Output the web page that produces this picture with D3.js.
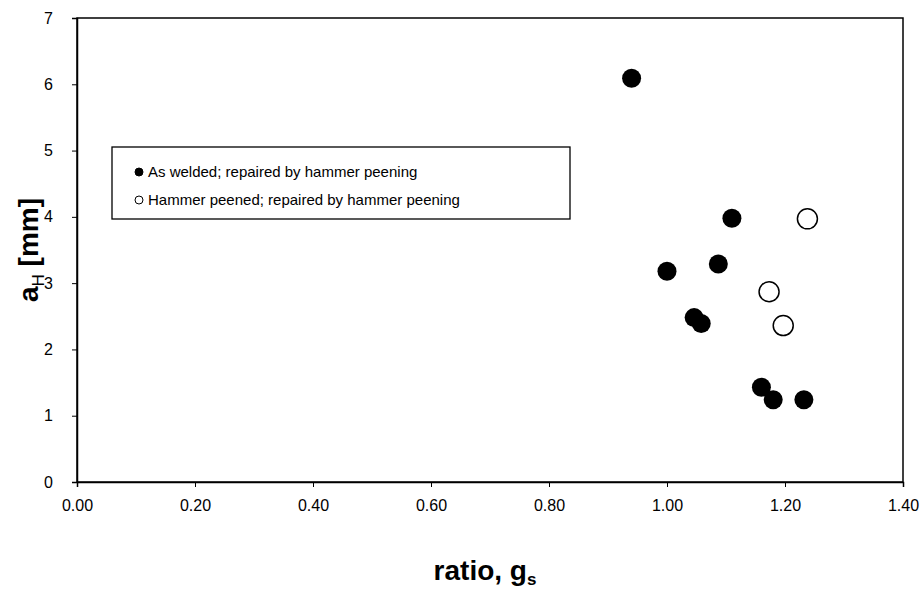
<!DOCTYPE html>
<html><head><meta charset="utf-8">
<script src="https://cdn.jsdelivr.net/npm/d3@7"></script>
<style>body{margin:0;background:#fff}svg{display:block}</style>
</head><body>
<script>
const weldedX = [0.94, 1.11, 1.00, 1.087, 1.046, 1.058, 1.16, 1.18, 1.232];
const weldedY = [6.09, 3.98, 3.18, 3.29, 2.48, 2.39, 1.43, 1.24, 1.24];
const peenedX = [1.238, 1.173, 1.197];
const peenedY = [3.97, 2.87, 2.36];
const xTicks = [0, 0.2, 0.4, 0.6, 0.8, 1.0, 1.2, 1.4];
const yTicks = [0, 1, 2, 3, 4, 5, 6, 7];
const legendLabels = ["As welded; repaired by hammer peening", "Hammer peened; repaired by hammer peening"];

const W = 923, H = 609;
const m = {l: 77, r: 20, t: 18, b: 127};
const svg = d3.select("body").append("svg").attr("width", W).attr("height", H);
const x = d3.scaleLinear().domain([0, 1.4]).range([m.l, W - m.r]);
const y = d3.scaleLinear().domain([0, 7]).range([H - m.b, m.t]);
const font = "Liberation Sans, Arial, sans-serif";

svg.append("rect").attr("x", x(0)).attr("y", y(7)).attr("width", x(1.4) - x(0)).attr("height", y(0) - y(7))
  .attr("fill", "none").attr("stroke", "#000").attr("stroke-width", 1.5);

const xa = svg.append("g").attr("transform", `translate(0,${y(0)})`)
  .call(d3.axisBottom(x).tickValues(xTicks).tickFormat(d3.format(".2f")).tickSize(5).tickPadding(13));
const ya = svg.append("g").attr("transform", `translate(${x(0)},0)`)
  .call(d3.axisLeft(y).tickValues(yTicks).tickFormat(d3.format("d")).tickSize(5).tickPadding(19));
[xa, ya].forEach(a => {
  a.select(".domain").attr("stroke", "#000").attr("stroke-width", 1.5);
  a.selectAll(".tick line").attr("stroke", "#000");
  a.selectAll("text").attr("font-family", font).attr("font-size", 16).attr("fill", "#000");
});

svg.append("g").selectAll("circle").data(weldedX.map((d, i) => [d, weldedY[i]])).join("circle")
  .attr("cx", d => x(d[0])).attr("cy", d => y(d[1])).attr("r", 9.5).attr("fill", "#000");
svg.append("g").selectAll("circle").data(peenedX.map((d, i) => [d, peenedY[i]])).join("circle")
  .attr("cx", d => x(d[0])).attr("cy", d => y(d[1])).attr("r", 10).attr("fill", "#fff")
  .attr("stroke", "#000").attr("stroke-width", 1.5);

// legend
const lg = svg.append("g");
lg.append("rect").attr("x", 112).attr("y", 147).attr("width", 458).attr("height", 72)
  .attr("fill", "#fff").attr("stroke", "#000").attr("stroke-width", 1.3);
legendLabels.forEach((t, i) => {
  const cy = 172 + i * 28;
  lg.append("circle").attr("cx", 139).attr("cy", cy).attr("r", 4)
    .attr("fill", i === 0 ? "#000" : "#fff").attr("stroke", "#000").attr("stroke-width", 1);
  lg.append("text").attr("x", 148).attr("y", cy + 5).text(t)
    .attr("font-family", font).attr("font-size", 15).attr("fill", "#000");
});

// axis titles
const xt = svg.append("text").attr("x", 485).attr("y", 580).attr("text-anchor", "middle")
  .attr("font-family", font).attr("font-size", 28).attr("font-weight", "bold");
xt.append("tspan").text("ratio, g");
xt.append("tspan").text("s").attr("font-size", 17).attr("dy", 5);

const yt = svg.append("text").attr("transform", `translate(38,${(y(0)+y(7))/2}) rotate(-90)`)
  .attr("text-anchor", "middle").attr("font-family", font).attr("font-size", 28).attr("font-weight", "bold");
yt.append("tspan").text("a");
yt.append("tspan").text("H").attr("font-size", 17).attr("dy", 6).attr("font-weight", "normal");
yt.append("tspan").text(" [mm]").attr("dy", -6);
</script>
</body></html>
